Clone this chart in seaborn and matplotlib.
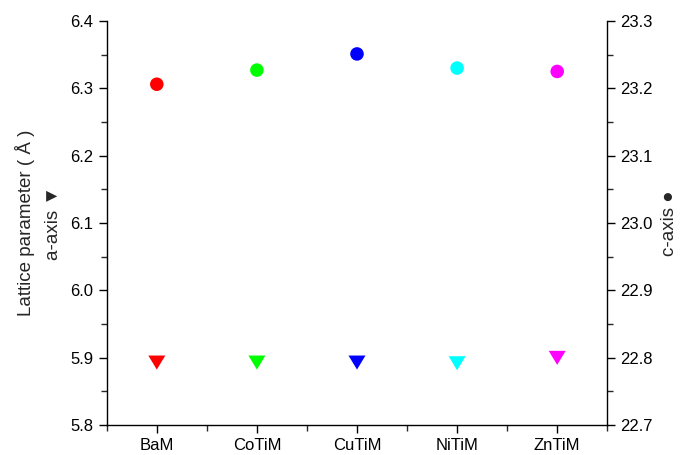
import pandas as pd
import seaborn as sns
import matplotlib.pyplot as plt
from matplotlib.ticker import MultipleLocator

# lattice parameters
samples = ['BaM', 'CoTiM', 'CuTiM', 'NiTiM', 'ZnTiM']
a_axis = [5.893, 5.893, 5.893, 5.892, 5.900]
c_axis = [23.206, 23.227, 23.251, 23.230, 23.225]
colours = ['#ff0000', '#00ff00', '#0000ff', '#00ffff', '#ff00ff']

df = pd.DataFrame({'sample': samples, 'a': a_axis, 'c': c_axis})
pal = dict(zip(samples, colours))

sns.set_style('ticks')
plt.rcParams['font.family'] = ['Liberation Sans', 'DejaVu Sans']

fig = plt.figure(figsize=(6.8, 4.55), dpi=100)
ax = fig.add_axes([0.157, 0.066, 0.736, 0.888])
ax2 = ax.twinx()

tri = [(-1, 0.8), (1, 0.8), (0, -0.85)]
sns.scatterplot(data=df, x='sample', y='a', hue='sample', palette=pal,
                marker=tri, s=150, linewidth=0, legend=False, ax=ax)
sns.scatterplot(data=df, x='sample', y='c', hue='sample', palette=pal,
                marker='o', s=95, linewidth=0, legend=False, ax=ax2)

ax.set_xlim(-0.5, 4.5)
ax.set_ylim(5.8, 6.4)
ax2.set_ylim(22.7, 23.3)
ax.yaxis.set_major_locator(MultipleLocator(0.1))
ax.yaxis.set_minor_locator(MultipleLocator(0.05))
ax2.yaxis.set_major_locator(MultipleLocator(0.1))
ax2.yaxis.set_minor_locator(MultipleLocator(0.05))
ax.set_xticks(range(len(samples)))
ax.set_xticklabels(samples)
ax.set_xticks([-0.5, 0.5, 1.5, 2.5, 3.5, 4.5], minor=True)

for a in (ax, ax2):
    a.spines['top'].set_visible(False)
    for s in a.spines.values():
        s.set_linewidth(1.0)
        s.set_color('black')
    a.tick_params(which='major', direction='out', length=6, width=1.0,
                  labelsize=12, colors='black')
    a.tick_params(which='minor', direction='out', length=4, width=1.0)
ax2.spines['left'].set_visible(False)
ax2.spines['bottom'].set_visible(False)
ax.spines['right'].set_visible(False)

ax.set_xlabel('')
ax.set_ylabel('Lattice parameter ( Å )\na-axis ▼', fontsize=13.5, labelpad=6,
              linespacing=1.75)
ax2.set_ylabel('c-axis ●', fontsize=13.5, rotation=90, labelpad=6)
ax.set_yticklabels([f'{v:.1f}' for v in ax.get_yticks()])
ax2.set_yticklabels([f'{v:.1f}' for v in ax2.get_yticks()])

fig.savefig('out.png', dpi=100)
